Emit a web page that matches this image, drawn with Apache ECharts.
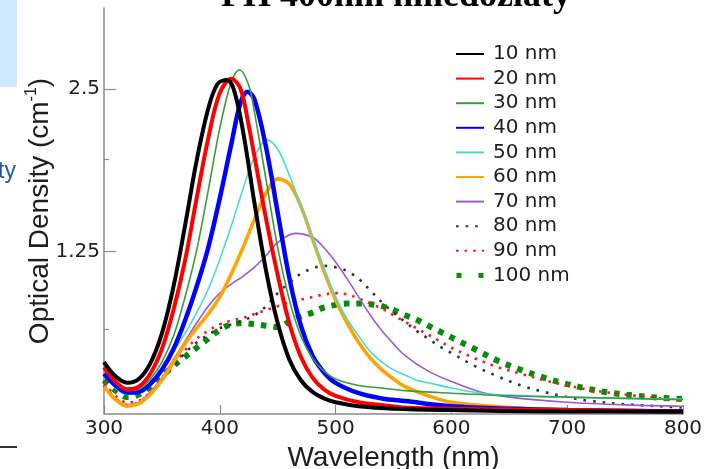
<!DOCTYPE html>
<html><head><meta charset="utf-8">
<script src="https://cdn.jsdelivr.net/npm/echarts@6.0.0/dist/echarts.min.js"></script>
<style>html,body{margin:0;padding:0;background:#fff;overflow:hidden}#c{width:715px;height:469px}</style>
</head><body><div id="c"></div>
<script>
const seriesNames = ['10 nm','20 nm','30 nm','40 nm','50 nm','60 nm','70 nm','80 nm','90 nm','100 nm'];
const xTicks = [300,400,500,600,700,800];
const yTickLabels = [1.25, 2.5];
const yMinorTicks = [0.65, 1.96];

const wl10 = [300,310,320,330,340,350,360,370,380,390,398,406,412,420,430,440,450,460,470,480,490,500,520,550,600,700,800];
const od10 = [0.40,0.29,0.24,0.27,0.39,0.62,0.98,1.45,1.95,2.35,2.54,2.57,2.50,2.18,1.62,1.10,0.70,0.42,0.26,0.17,0.12,0.09,0.06,0.04,0.03,0.02,0.02];
const wl20 = [300,310,320,330,340,350,360,370,380,390,400,410,418,425,430,440,450,460,470,480,490,500,520,540,560,600,700,800];
const od20 = [0.36,0.25,0.19,0.21,0.31,0.50,0.80,1.18,1.66,2.12,2.47,2.58,2.50,2.22,1.98,1.50,1.07,0.70,0.44,0.28,0.19,0.14,0.09,0.07,0.05,0.04,0.03,0.02];
const wl30 = [300,310,320,330,340,350,360,370,380,390,400,410,417,425,430,440,450,460,470,480,490,500,520,540,560,600,650,700,750,800];
const od30 = [0.34,0.24,0.18,0.19,0.27,0.40,0.60,0.90,1.26,1.72,2.20,2.56,2.65,2.53,2.32,1.80,1.28,0.88,0.60,0.43,0.33,0.27,0.22,0.20,0.18,0.16,0.14,0.13,0.12,0.11];
const wl40 = [300,310,320,330,340,350,360,370,380,390,400,410,418,424,430,440,450,460,470,480,490,500,520,540,560,600,650,700,800];
const od40 = [0.31,0.22,0.165,0.17,0.23,0.34,0.50,0.72,0.98,1.28,1.66,2.08,2.40,2.48,2.42,2.05,1.55,1.05,0.68,0.45,0.32,0.24,0.16,0.12,0.10,0.06,0.04,0.03,0.02];
const wl50 = [300,310,320,330,340,350,360,370,380,390,400,410,420,430,441,450,460,470,480,490,500,510,520,530,540,550,560,570,580,600,625,650,700,750,800];
const od50 = [0.30,0.20,0.15,0.17,0.25,0.35,0.48,0.62,0.78,0.96,1.19,1.45,1.73,1.98,2.11,2.04,1.84,1.60,1.36,1.12,0.90,0.73,0.60,0.48,0.40,0.34,0.30,0.26,0.24,0.20,0.16,0.145,0.13,0.12,0.115];
const wl60 = [300,310,320,330,340,350,360,370,380,390,400,410,420,430,440,450,460,470,480,490,500,510,520,530,540,550,560,580,600,650,700,800];
const od60 = [0.21,0.11,0.06,0.08,0.15,0.26,0.40,0.54,0.66,0.77,0.90,1.08,1.28,1.50,1.70,1.81,1.77,1.60,1.35,1.10,0.88,0.70,0.55,0.43,0.34,0.27,0.21,0.14,0.09,0.05,0.03,0.02];
const wl70 = [300,310,320,330,340,350,360,370,380,390,400,410,420,430,440,450,465,480,490,500,510,520,530,540,550,560,580,600,625,650,700,750,800];
const od70 = [0.22,0.11,0.07,0.09,0.17,0.28,0.42,0.56,0.70,0.83,0.93,1.00,1.06,1.13,1.22,1.32,1.39,1.36,1.28,1.17,1.04,0.90,0.76,0.64,0.54,0.45,0.33,0.25,0.17,0.13,0.09,0.07,0.06];
const wl80 = [300,310,320,330,340,350,360,370,380,390,400,410,420,430,440,450,460,470,480,490,500,510,520,530,540,550,560,570,580,590,600,620,640,660,680,700,720,750,800];
const od80 = [0.22,0.12,0.07,0.09,0.16,0.26,0.37,0.47,0.55,0.61,0.66,0.69,0.72,0.76,0.83,0.93,1.01,1.08,1.12,1.14,1.13,1.10,1.04,0.95,0.86,0.78,0.71,0.64,0.58,0.52,0.47,0.37,0.29,0.22,0.17,0.13,0.10,0.075,0.05];
const wl90 = [300,310,320,330,340,350,360,370,380,390,400,410,420,430,440,450,460,470,480,490,500,510,520,530,540,550,560,570,580,590,600,620,640,660,680,700,720,740,760,780,800];
const od90 = [0.24,0.14,0.09,0.10,0.17,0.27,0.38,0.49,0.58,0.64,0.69,0.72,0.74,0.77,0.80,0.83,0.86,0.88,0.90,0.92,0.93,0.92,0.89,0.85,0.81,0.76,0.71,0.66,0.61,0.56,0.51,0.43,0.36,0.31,0.26,0.22,0.185,0.16,0.14,0.12,0.10];
const wl100 = [300,310,320,330,340,350,360,370,380,390,400,410,420,430,440,450,460,470,480,490,500,510,520,530,540,550,560,570,580,590,600,620,640,660,680,700,720,740,760,780,800];
const od100 = [0.26,0.18,0.13,0.15,0.21,0.29,0.37,0.44,0.51,0.58,0.65,0.69,0.70,0.69,0.68,0.67,0.71,0.75,0.78,0.82,0.84,0.85,0.85,0.845,0.83,0.80,0.76,0.725,0.68,0.635,0.59,0.50,0.41,0.34,0.28,0.23,0.19,0.16,0.14,0.125,0.115];

const wls = [wl10,wl20,wl30,wl40,wl50,wl60,wl70,wl80,wl90,wl100];
const ods = [od10,od20,od30,od40,od50,od60,od70,od80,od90,od100];
const styles = [
  {color:'#000000', width:4},
  {color:'#ff0000', width:4},
  {color:'#3b9b3b', width:1.6},
  {color:'#0000ff', width:4.5},
  {color:'#48dcd0', width:1.6},
  {color:'#ffa500', width:3.6},
  {color:'#9a5bd6', width:1.6},
  {color:'#333333', width:2.6, type:[2.6,7]},
  {color:'#ff1a1a', width:2.6, type:[2.6,6]},
  {color:'#0b8a0b', width:6, type:[5.5,7]}
];

const chart = echarts.init(document.getElementById('c'), null, {renderer:'canvas'});
const font = '"Liberation Sans", Arial, sans-serif';
const wideFont = '"DejaVu Sans", Verdana, sans-serif';
const axisCol = '#8a8a8a';
const txtCol = '#1e1e1e';

const series = seriesNames.map((n,i)=>({
  name:n, type:'line', smooth:0.35, showSymbol:false, symbol:'none',
  data: wls[i].map((w,k)=>[w, ods[i][k]]),
  lineStyle:{color:styles[i].color, width:styles[i].width, type:styles[i].type || 'solid', cap:'butt'},
  itemStyle:{color:styles[i].color},
  z: 10-i,
  animation:false
}));

const legendData = seriesNames.map((n,i)=>{
  const d = {name:n};
  if (i===9) {
    d.icon = 'path://M0,4.5h5v5h-5z M22,4.5h5v5h-5z M0,0L0.01,0L0.01,0.01z M27,14L27.01,14L27.01,13.99z';
    d.itemStyle = {opacity:1, color:'#0b8a0b'};
  }
  return d;
});

chart.setOption({
  animation:false,
  backgroundColor:'#ffffff',
  grid:{left:104, right:32, top:8, bottom:55, containLabel:false, outerBoundsMode:'none'},
  legend:{
    orient:'vertical', left:450, top:39, itemWidth:28, itemHeight:14, itemGap:4.6,
    itemStyle:{opacity:0},
    textStyle:{fontSize:20, color:txtCol, fontFamily:wideFont, padding:[0,0,0,4]},
    data:legendData
  },
  xAxis:{
    type:'value', min:300, max:800, interval:100,
    name:'Wavelength (nm)', nameLocation:'middle', nameGap:28,
    nameTextStyle:{fontSize:28, color:txtCol, fontFamily:font},
    axisLine:{lineStyle:{color:axisCol, width:1.5}},
    axisTick:{inside:true, length:9, lineStyle:{color:axisCol, width:1.2}},
    axisLabel:{fontSize:20, color:txtCol, fontFamily:wideFont, margin:5},
    splitLine:{show:false}
  },
  yAxis:[{
    type:'value', min:0, max:3.125, interval:1.25,
    name:'Optical Density (cm{sup|-1})', nameLocation:'middle', nameGap:48, nameRotate:90,
    nameMoveOverlap:false,
    nameTextStyle:{fontSize:28, color:txtCol, fontFamily:font,
      rich:{sup:{fontSize:16, color:txtCol, fontFamily:font, padding:[0,0,16,0]}}},
    axisLine:{show:true, lineStyle:{color:axisCol, width:1.5}},
    axisTick:{inside:true, length:12, customValues:yTickLabels, lineStyle:{color:axisCol, width:1.2}},
    axisLabel:{fontSize:20, color:txtCol, fontFamily:wideFont, margin:4, customValues:yTickLabels,
      formatter:v=> (v===0 ? '' : String(v))},
    splitLine:{show:false}
  },{
    type:'value', min:0, max:3.125, position:'left',
    axisLine:{show:false},
    axisTick:{show:true, inside:true, length:5, customValues:yMinorTicks, lineStyle:{color:axisCol, width:1.2}},
    axisLabel:{show:false},
    splitLine:{show:false}
  }],
  graphic:[
    {type:'rect', left:0, top:0, shape:{width:17, height:87}, style:{fill:'#cde9fb'}, silent:true},
    {type:'text', x:16, y:172, style:{text:'ity', font:'23px ' + font, fill:'#1d5c9c', align:'right', verticalAlign:'middle'}, silent:true},
    {type:'line', shape:{x1:0, y1:447, x2:17, y2:447}, style:{stroke:'#333', lineWidth:2}, silent:true},
    {type:'text', x:396, y:-3, style:{text:'PH 400nm nmedozláty', font:'bold 36px "Liberation Serif", "Times New Roman", serif', fill:'#000', align:'center', verticalAlign:'middle'}, silent:true}
  ],
  series: series
});
</script></body></html>
